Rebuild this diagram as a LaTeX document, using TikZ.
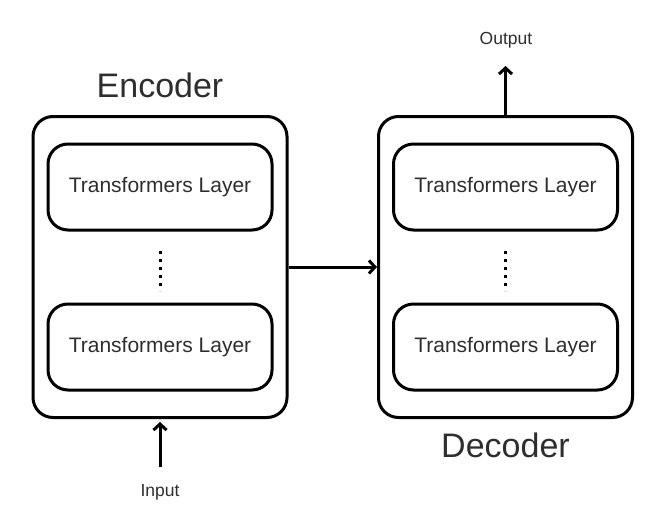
\documentclass[tikz,border=0pt]{standalone}
\usepackage{fontspec}
\setmainfont{Liberation Sans}
\usetikzlibrary{arrows.meta}
\definecolor{txtgray}{HTML}{2E2E2E}
\begin{document}
\begin{tikzpicture}[x=1pt, y=-1pt,
  every node/.style={text=txtgray},
  outerbox/.style={draw=black, line width=3pt, rounded corners=20pt, minimum width=254pt, minimum height=301pt},
  layerbox/.style={draw=black, line width=3pt, rounded corners=20pt, minimum width=224pt, minimum height=86pt, font=\fontsize{21}{25}\selectfont},
  title/.style={font=\fontsize{34}{40}\selectfont},
  small/.style={font=\fontsize{17.5}{21}\selectfont},
  arr/.style={-{Straight Barb[length=6pt, width=13pt, line width=3pt]}, line width=3pt},
  vdots/.style={line width=3pt, dash pattern=on 3pt off 5pt}]
  \useasboundingbox (0,0) rectangle (662,522);
  % Encoder
  \node[outerbox] (enc) at (160,267) {};
  \node[layerbox] (enc1) at (160,187) {Transformers Layer};
  \node[layerbox] (enc2) at (160,347) {Transformers Layer};
  \draw[vdots] (enc1.south) ++(0,19) -- ++(0,40);
  \node[title] (enclab) at (160,85) {Encoder};
  % Decoder
  \node[outerbox] (dec) at (505.5,267) {};
  \node[layerbox] (dec1) at (505.5,187) {Transformers Layer};
  \node[layerbox] (dec2) at (505.5,347) {Transformers Layer};
  \draw[vdots] (dec1.south) ++(0,19) -- ++(0,40);
  \node[title] (declab) at (505.5,445) {Decoder};
  % Input and output
  \node[small] (input) at (160,492) {Input};
  \coordinate (intail) at (160,467);
  \draw[arr, shorten >=3pt] (intail) -- (enc.south);
  \node[small] (output) at (506,40) {Output};
  \coordinate (outtip) at (505.5,66);
  \draw[arr] (dec.north) -- (outtip);
  % Encoder to decoder
  \draw[arr] (enc.east) -- (dec.west);
\end{tikzpicture}
\end{document}
